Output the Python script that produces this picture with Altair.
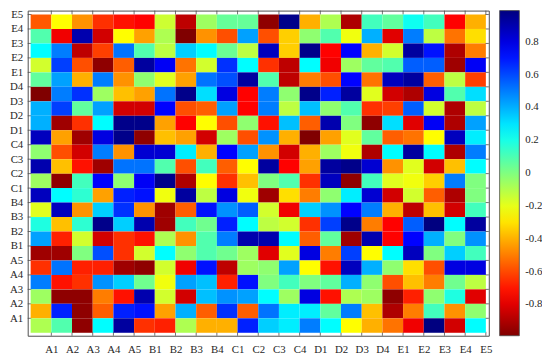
import altair as alt
import pandas as pd

names = ["A1", "A2", "A3", "A4", "A5", "B1", "B2", "B3", "B4", "C1", "C2",
         "C3", "C4", "D1", "D2", "D3", "D4", "E1", "E2", "E3", "E4", "E5"]

# one list per row, columns A1 ... E5
row_E5 = [-0.57, -0.25, -0.46, -0.65, -0.71, -0.74, -0.15, -0.87, -0.06, 0.05, 0.05, -0.96, 0.97, -0.40, -0.09, -0.90, 0.12, 0.06, 0.22, 0.12, -0.74, -0.40]
row_E4 = [0.09, -0.77, 0.90, -0.83, -0.25, -0.43, -0.09, -0.99, -0.46, -0.59, 0.43, -0.59, -0.34, -0.03, 0.09, -0.22, 0.40, -0.80, 0.50, -0.12, -0.52, -0.31]
row_E3 = [0.25, 0.50, -0.87, -0.62, 0.52, 0.09, -0.12, 0.34, 0.25, 0.04, -0.12, 0.87, -0.34, 0.97, -0.74, 0.74, -0.40, -0.16, 0.93, 0.71, -0.90, -0.50]
row_E2 = [-0.16, 0.62, -0.59, -0.96, -0.56, 0.93, 0.76, -0.52, -0.16, 0.65, 0.25, -0.65, -0.87, 0.25, -0.77, -0.06, 0.06, 0.09, 0.56, 0.56, -0.93, 0.76]
row_E1 = [0.06, 0.43, -0.40, 0.50, -0.46, -0.03, -0.19, -0.43, 0.52, 0.59, 0.93, 0.09, -0.87, -0.50, -0.59, 0.74, -0.52, 0.87, 0.93, -0.56, -0.12, -0.62]
row_D4 = [-0.99, 0.50, 0.65, -0.06, -0.37, -0.43, 0.52, 0.97, 0.31, 0.80, -0.74, 0.50, -0.03, 0.97, 0.68, 0.93, -0.19, -0.83, -0.90, 0.80, 0.09, 0.31]
row_D3 = [0.40, 0.62, 0.06, 0.43, -0.83, -0.83, 0.74, -0.59, -0.56, 0.43, -0.74, 0.50, -0.12, 0.37, -0.03, 0.09, -0.65, -0.62, 0.56, -0.16, -0.90, -0.12]
row_D2 = [0.40, -0.93, -0.65, 0.25, 0.97, 0.97, -0.43, -0.74, -0.25, -0.59, -0.03, -0.71, 0.37, -0.56, 0.90, 0.00, -0.96, 0.31, -0.80, 0.76, -0.90, 0.43]
row_D1 = [0.87, -0.43, -0.93, 0.80, 0.97, -0.96, -0.37, -0.43, -0.83, -0.06, -0.59, 0.46, -0.40, -0.99, -0.43, -0.19, 0.06, -0.56, -0.52, -0.25, 0.87, 0.28]
row_C4 = [-0.03, -0.59, -0.83, 0.50, -0.46, 0.83, 0.83, 0.28, -0.40, 0.74, 0.43, -0.46, -0.83, -0.40, -0.06, -0.22, -0.90, 0.25, 0.93, 0.25, -0.90, 0.50]
row_C3 = [0.90, -0.37, -0.71, -0.93, 0.52, 0.52, 0.09, -0.59, 0.12, -0.56, -0.25, 0.93, -0.74, -0.43, 0.93, 0.97, 0.83, -0.46, -0.19, -0.83, -0.37, 0.25]
row_C2 = [-0.06, -0.96, 0.12, 0.74, -0.03, 0.76, 0.97, -0.90, -0.25, -0.65, -0.37, 0.00, 0.09, -0.65, 0.87, -0.96, 0.12, -0.19, -0.22, -0.34, 0.50, 0.00]
row_C1 = [0.87, 0.25, 0.16, -0.43, 0.68, 0.71, -0.22, 0.93, -0.12, 0.80, -0.22, -0.93, -0.31, -0.50, -0.03, 0.28, 0.83, -0.83, -0.16, -0.56, -0.90, 0.00]
row_B4 = [-0.19, 0.87, -0.46, 0.34, 0.65, -0.46, -0.93, -0.56, 0.71, 0.46, 0.56, -0.16, -0.77, 0.34, 0.46, 0.74, 0.50, -0.40, -0.87, -0.37, -0.83, 0.12]
row_B3 = [0.19, -0.37, 0.16, 0.97, 0.34, 0.90, -0.93, 0.12, 0.03, 0.68, 0.25, -0.12, -0.16, -0.65, 0.62, 0.97, -0.50, -0.74, 0.56, 0.99, 0.25, 0.93]
row_B2 = [0.43, -0.68, -0.16, -0.83, -0.65, -0.71, -0.09, -0.46, 0.09, 0.50, 0.90, 0.90, 0.25, -0.56, 0.06, -0.93, 0.90, -0.74, 0.74, 0.40, 0.00, 0.46]
row_B1 = [-0.93, -0.93, 0.00, 0.59, -0.65, -0.16, 0.25, -0.03, 0.09, 0.03, -0.06, -0.80, -0.19, 0.80, -0.50, 0.62, -0.25, 0.25, 0.87, 0.00, 0.34, 0.12]
row_A5 = [-0.65, 0.52, -0.68, -0.68, -0.93, -0.96, -0.16, -0.77, 0.71, -0.87, -0.06, -0.03, 0.43, -0.25, -0.71, 0.87, 0.40, -0.03, -0.31, -0.59, 0.80, 0.80]
row_A4 = [0.50, -0.71, -0.65, 0.46, 0.34, 0.03, -0.22, 0.43, 0.37, -0.68, 0.71, 0.00, 0.12, 0.00, 0.06, 0.40, -0.03, -0.59, -0.37, -0.50, 0.03, -0.12]
row_A3 = [-0.06, -0.96, -0.96, -0.50, -0.71, 0.90, -0.16, -0.83, 0.37, 0.46, 0.43, 0.25, -0.06, 0.80, -0.71, -0.09, -0.06, -0.96, -0.68, -0.03, 0.19, -0.80]
row_A2 = [-0.40, 0.68, -0.96, -0.56, 0.68, 0.71, -0.43, 0.40, -0.56, 0.65, -0.56, 0.52, 0.28, 0.28, 0.06, 0.50, -0.37, -0.90, -0.50, 0.12, -0.46, -0.03]
row_A1 = [-0.09, 0.09, -0.96, 0.25, 0.93, -0.65, -0.68, -0.09, -0.40, -0.40, 0.68, 0.34, 0.28, 0.50, 0.25, -0.25, -0.40, -0.52, -0.77, 0.99, -0.83, 0.25]

rows = {
    "E5": row_E5, "E4": row_E4, "E3": row_E3, "E2": row_E2, "E1": row_E1,
    "D4": row_D4, "D3": row_D3, "D2": row_D2, "D1": row_D1,
    "C4": row_C4, "C3": row_C3, "C2": row_C2, "C1": row_C1,
    "B4": row_B4, "B3": row_B3, "B2": row_B2, "B1": row_B1,
    "A5": row_A5, "A4": row_A4, "A3": row_A3, "A2": row_A2, "A1": row_A1,
}

records = []
for rname, vals in rows.items():
    r = names.index(rname) + 1
    for c, v in enumerate(vals, start=1):
        records.append({"x0": c - 1, "x1": c, "y0": r - 1, "y1": r, "v": v})
df = pd.DataFrame(records)

tick_vals = list(range(1, len(names) + 1))
ticks_df = pd.DataFrame({"t": tick_vals})
cbar_vals = [-0.8, -0.6, -0.4, -0.2, 0.0, 0.2, 0.4, 0.6, 0.8]

FONT = "Liberation Serif"
TXT = "#262626"
FRAME = "#4d4d4d"
W, H = 468, 330

label_arr = "[" + ",".join("'%s'" % n for n in names) + "]"

xscale = alt.Scale(domain=[-0.142, 22.142], nice=False, zero=False)
yscale = alt.Scale(domain=[-0.204, 22.27], nice=False, zero=False)
xaxis = alt.Axis(values=tick_vals, labelExpr=label_arr + "[datum.value-1]",
                 ticks=False, domain=False, grid=False, title=None,
                 labelFont=FONT, labelFontSize=11, labelColor=TXT,
                 labelPadding=8, labelFlush=False, labelOverlap=False)
yaxis = alt.Axis(values=tick_vals, labelExpr=label_arr + "[datum.value-1]",
                 ticks=False, domain=False, grid=False, title=None,
                 labelFont=FONT, labelFontSize=11, labelColor=TXT,
                 labelPadding=5, labelFlush=False, labelOverlap=False)

cdomain = [-0.99, -0.7425, -0.2475, 0.2475, 0.7425, 0.99]
crange = ["#800000", "#ff0000", "#ffff00", "#00ffff", "#0000ff", "#000080"]
cscale = alt.Scale(type="linear", domain=cdomain, range=crange, interpolate="rgb")

legend = alt.Legend(
    type="gradient",
    title=None, orient="none", legendX=W + 11, legendY=0, direction="vertical",
    gradientLength=H, gradientThickness=20, gradientStrokeColor=FRAME,
    gradientStrokeWidth=0.8, values=cbar_vals,
    labelExpr="replace(format(datum.value, '.1~f'), '\u2212', '-')",
    labelFont=FONT, labelFontSize=11, labelColor=TXT, labelOffset=6,
    labelOverlap=False, padding=0,
)

top_ticks = alt.Chart(ticks_df).mark_rule(color=FRAME, strokeWidth=0.8).encode(
    x=alt.X("t:Q", scale=xscale, axis=xaxis), y=alt.value(0), y2=alt.value(4))
bot_ticks = alt.Chart(ticks_df).mark_rule(color=FRAME, strokeWidth=0.8).encode(
    x=alt.X("t:Q", scale=xscale, axis=xaxis), y=alt.value(H), y2=alt.value(H - 4))
left_ticks = alt.Chart(ticks_df).mark_rule(color=FRAME, strokeWidth=0.8).encode(
    y=alt.Y("t:Q", scale=yscale, axis=yaxis), x=alt.value(0), x2=alt.value(4))
right_ticks = alt.Chart(ticks_df).mark_rule(color=FRAME, strokeWidth=0.8).encode(
    y=alt.Y("t:Q", scale=yscale, axis=yaxis), x=alt.value(W), x2=alt.value(W - 4))

cells = alt.Chart(df).mark_rect().encode(
    x=alt.X("x0:Q", scale=xscale, axis=xaxis),
    x2="x1:Q",
    y=alt.Y("y0:Q", scale=yscale, axis=yaxis),
    y2="y1:Q",
    color=alt.Color("v:Q", scale=cscale, legend=legend),
)

chart = alt.layer(top_ticks, bot_ticks, left_ticks, right_ticks, cells).properties(
    width=W, height=H,
    autosize=alt.AutoSizeParams(type="none"),
    padding={"left": 20, "top": 0, "right": 54, "bottom": 22},
    background="white",
).configure_view(stroke=FRAME, strokeWidth=1)

chart.save("out.html", embed_options={"renderer": "svg", "actions": False})
